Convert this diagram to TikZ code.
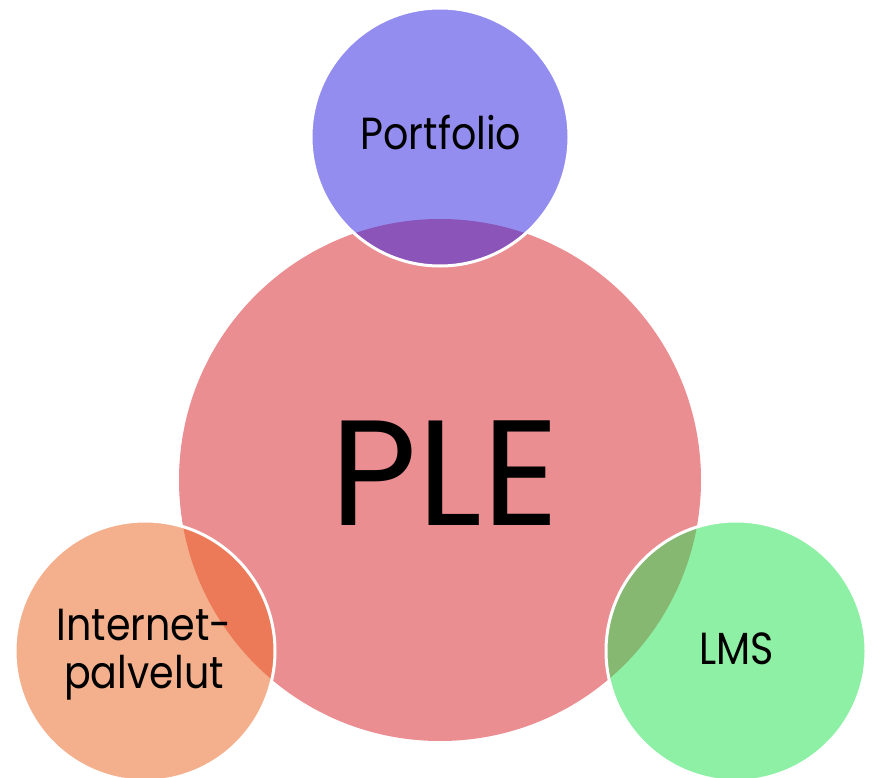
\documentclass[tikz,border=0pt]{standalone}
\usepackage{fontspec}
\setmainfont{Poppins}
\newfontfamily\narrowfont[FakeStretch=0.88]{Poppins}
\definecolor{plec}{RGB}{234,142,145}
\definecolor{portc}{RGB}{148,141,240}
\definecolor{intc}{RGB}{244,176,141}
\definecolor{lmsc}{RGB}{141,240,164}
\definecolor{portov}{RGB}{138,84,184}
\definecolor{intov}{RGB}{236,122,88}
\definecolor{lmsov}{RGB}{134,184,114}
\tikzset{
  lbl/.style={text=black, inner sep=0pt, align=center},
  small/.style={lbl, font=\narrowfont\fontsize{45}{48}\selectfont},
  ring/.style={draw=white, line width=3pt},
}
\begin{document}
\begin{tikzpicture}[x=1pt,y=-1pt]
\useasboundingbox (0,0) rectangle (873,778);
\begin{scope}
\clip (0,0) rectangle (873,778);
\fill[plec] (440,480) circle (261);
\coordinate (cP) at (440,137);
\coordinate (cI) at (145,651);
\coordinate (cL) at (736,651);
\fill[portc] (cP) circle (129);
\fill[intc] (cI) circle (130);
\fill[lmsc] (cL) circle (130);
\begin{scope}
  \clip (cP) circle (129);
  \fill[portov] (440,480) circle (261);
\end{scope}
\begin{scope}
  \clip (cI) circle (130);
  \fill[intov] (440,480) circle (261);
\end{scope}
\begin{scope}
  \clip (cL) circle (130);
  \fill[lmsov] (440,480) circle (261);
\end{scope}
\draw[ring] (cP) circle (129);
\draw[ring] (cI) circle (130);
\draw[ring] (cL) circle (130);
\end{scope}
\node[lbl, font=\fontsize{150}{150}\selectfont, anchor=base] (ple) at (445,525) {PLE};
\node[small, anchor=base] (port) at (441,150) {Portfolio};
\node[small, anchor=base] (lms) at (737,664) {LMS};
\node[small, anchor=base] (int) at (144,688) {Internet-\\palvelut};
\end{tikzpicture}
\end{document}
